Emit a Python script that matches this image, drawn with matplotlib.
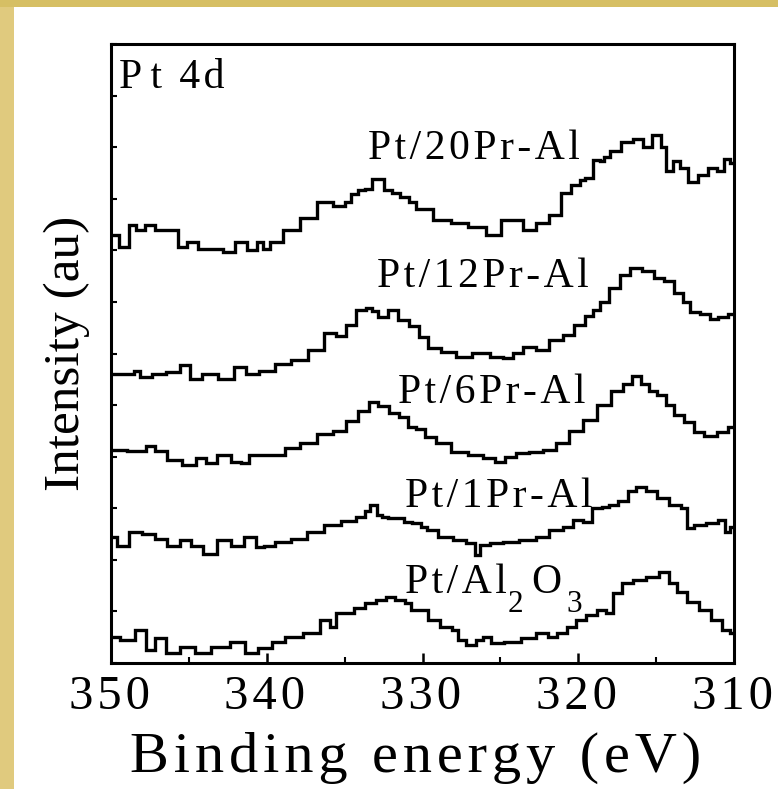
import matplotlib.pyplot as plt
from matplotlib.patches import Rectangle

plt.rcParams['font.family'] = ['Liberation Serif', 'DejaVu Serif']

HAIR = "\u200a"
THIN = "\u2009"


def spaced(s):
    return HAIR.join(s)


# Pt 4d XPS spectra, binding energy (eV) vs intensity (au)
be_20pr = [349.9, 349.1, 348.65, 348.1, 347.5, 346.9, 345.8, 345.6, 344.7, 344.1,
           343.2, 342.4, 341.7, 340.8, 340.4, 340.1, 339.5, 338.4, 337.3, 336.2,
           335.3, 334.7, 334.5, 333.85, 333.6, 332.9, 332.05, 331.9, 331.0, 330.8,
           330.0, 328.7, 327.6, 326.5, 325.3, 324.6, 324.0, 323.1, 322.3, 321.4,
           320.8, 320.1, 319.7, 319.4, 318.65, 318.5, 318.2, 317.7, 316.8, 316.15,
           315.6, 314.9, 314.5, 314.2, 313.65, 313.3, 312.6, 312.0, 311.35, 310.9,
           310.45, 310.1]
int_20pr = [428, 416, 438, 433, 438, 433, 433, 416, 421, 414,
            414, 411, 421, 413, 421, 414, 421, 433, 445, 461,
            457, 461, 469, 473, 474, 484, 473, 470, 466, 461,
            454, 443, 440, 436, 428, 443, 443, 433, 440, 448,
            470, 478, 483, 485, 503, 502, 506, 512, 521, 524,
            516, 528, 516, 492, 502, 495, 481, 488, 495, 492,
            504, 500]

be_12pr = [349.9, 348.65, 348.45, 347.8, 346.9, 346.0, 345.2, 344.7, 343.65, 342.55,
           341.7, 341.0, 340.0, 339.0, 337.95, 336.7, 335.95, 335.1, 334.7, 333.85,
           333.4, 333.15, 332.55, 331.9, 331.3, 330.5, 330.0, 329.35, 328.3, 327.45,
           326.15, 325.25, 324.4, 324.0, 323.15, 322.3, 321.4, 320.6, 319.95, 319.2,
           318.85, 318.35, 317.7, 317.0, 316.3, 315.5, 314.8, 314.2, 313.5, 313.1,
           312.55, 311.8, 311.35, 310.7, 310.1]
int_12pr = [289, 289, 292, 286, 289, 291, 298, 284, 289, 284,
            296, 289, 292, 299, 303, 313, 330, 327, 338, 353,
            355, 352, 346, 353, 343, 337, 326, 315, 311, 306,
            310, 306, 305, 310, 316, 313, 323, 328, 338, 347,
            353, 361, 375, 388, 395, 392, 385, 382, 370, 361,
            351, 349, 344, 346, 349]

be_6pr = [349.9, 348.0, 347.55, 346.75, 346.0, 344.95, 344.1, 343.65, 342.75, 341.9,
          341.45, 340.8, 339.95, 339.25, 338.4, 337.3, 336.2, 335.3, 334.55, 333.7,
          333.2, 332.5, 331.85, 331.2, 330.65, 330.15, 329.55, 328.7, 327.6, 326.55,
          325.7, 325.05, 324.4, 323.6, 322.7, 321.85, 321.0, 320.15, 319.3, 318.35,
          317.45, 316.8, 316.3, 315.7, 315.25, 314.6, 314.15, 313.55, 312.9, 312.25,
          311.55, 310.7, 310.1]
int_6pr = [213, 212, 217, 212, 203, 198, 205, 200, 208, 201,
           200, 208, 208, 208, 215, 220, 229, 232, 242, 252,
           261, 257, 250, 246, 236, 234, 226, 220, 211, 208,
           205, 201, 206, 210, 211, 213, 220, 232, 243, 258,
           272, 279, 287, 279, 272, 268, 258, 248, 241, 231,
           227, 231, 236]

be_1pr = [349.9, 349.3, 348.45, 347.55, 346.75, 346.0, 345.2, 344.55, 343.65, 342.75,
          341.9, 341.0, 340.4, 339.95, 339.0, 337.95, 336.85, 335.75, 334.7, 333.85,
          333.6, 333.2, 332.7, 332.55, 331.85, 331.45, 330.95, 330.4, 329.85, 329.55,
          328.45, 327.6, 326.8, 326.45, 326.15, 325.25, 324.4, 323.15, 322.3, 321.4,
          320.6, 320.05, 319.4, 318.8, 318.2, 317.9, 317.0, 316.6, 316.05, 315.25,
          314.6, 313.7, 313.1, 312.9, 312.25, 311.35, 310.7, 310.45, 310.1]
int_1pr = [126, 117, 131, 129, 124, 117, 123, 117, 109, 123,
           117, 126, 116, 117, 121, 124, 131, 138, 142, 146,
           152, 158, 148, 146, 145, 145, 141, 140, 136, 133,
           126, 123, 120, 108, 118, 120, 121, 123, 126, 133,
           136, 143, 141, 155, 156, 158, 162, 172, 176, 172,
           165, 158, 155, 135, 138, 140, 143, 131, 136]

be_al2o3 = [349.9, 349.0, 347.95, 347.5, 346.85, 346.05, 345.15, 344.1, 343.0, 341.75,
            341.1, 340.0, 339.35, 338.35, 337.05, 336.15, 335.75, 335.3, 334.7, 334.05,
            333.4, 332.55, 332.1, 331.45, 330.85, 330.65, 330.0, 329.35, 328.45, 327.8,
            327.65, 326.8, 326.35, 325.9, 325.25, 324.25, 323.15, 322.3, 321.65, 321.05,
            320.4, 319.95, 319.1, 318.45, 318.0, 317.55, 316.9, 316.1, 315.25, 314.35,
            313.95, 313.35, 312.7, 311.8, 311.15, 310.45, 310.1]
int_al2o3 = [26, 23, 33, 13, 25, 10, 16, 10, 16, 21,
             10, 15, 21, 26, 30, 43, 36, 50, 50, 55,
             60, 63, 66, 63, 60, 53, 53, 43, 36, 33,
             23, 18, 23, 26, 20, 21, 25, 30, 26, 30,
             36, 43, 48, 53, 50, 70, 80, 83, 86, 91,
             80, 71, 61, 53, 43, 33, 30]

sample_names = ["Pt/20Pr-Al", "Pt/12Pr-Al", "Pt/6Pr-Al", "Pt/1Pr-Al"]
# label anchor (binding energy, intensity) for each curve
label_be = [333.5, 332.9, 331.6, 331.15]
label_int = [504, 376, 260, 156]

x_ticks = [350, 340, 330, 320, 310]
x_minor = [345, 335, 325, 315]

fig = plt.figure(figsize=(7.78, 7.89), dpi=100)
fig.patch.set_facecolor("white")
# tan frame on the left and top edges
fig.add_artist(Rectangle((0, 0), 14 / 778, 1, transform=fig.transFigure,
                         facecolor="#e0ca7e", edgecolor="none"))
fig.add_artist(Rectangle((0, 1 - 7 / 789), 1, 7 / 789, transform=fig.transFigure,
                         facecolor="#d6bf64", edgecolor="none"))

ax = fig.add_axes([0.1427, 0.1597, 0.8008, 0.7845])

curves = [(be_20pr, int_20pr), (be_12pr, int_12pr), (be_6pr, int_6pr),
          (be_1pr, int_1pr), (be_al2o3, int_al2o3)]
for be, inten in curves:
    ax.step(be, inten, where="mid", color="black", lw=2.4, solid_joinstyle="miter")

for name, lx, ly in zip(sample_names, label_be, label_int):
    ax.text(lx, ly, spaced(name), fontsize=30, ha="left", va="baseline")

# Pt/Al2O3 with large, low subscripts, built piece by piece
t1 = ax.text(331.15, 70, spaced("Pt/Al"), fontsize=30, ha="left", va="baseline")
t2 = ax.annotate("2", xy=(1, 0), xycoords=t1, xytext=(0.5, -7.5),
                 textcoords="offset points", fontsize=22.5, ha="left", va="baseline")
t3 = ax.annotate("O", xy=(1, 0), xycoords=t2, xytext=(6, 19.0),
                 textcoords="offset points", fontsize=30, ha="left", va="baseline")
ax.annotate("3", xy=(1, 0), xycoords=t3, xytext=(3.6, -7.5),
            textcoords="offset points", fontsize=22.5, ha="left", va="baseline")

ax.text(349.5, 575, "P" + THIN + "t " + HAIR + HAIR + "4" + HAIR + "d", fontsize=30,
        ha="left", va="baseline")

ax.set_xlim(350, 310)
ax.set_ylim(0, 619)
ax.set_xticks(x_ticks)
ax.set_xticklabels([spaced(str(t)) + HAIR for t in x_ticks])
ax.set_xticks(x_minor, minor=True)
ax.set_yticks([619 * k / 12 for k in range(13)])
ax.tick_params(axis="x", which="major", direction="in", length=7, width=1.8,
               labelsize=35, pad=9, top=False)
ax.tick_params(axis="x", which="minor", direction="in", length=4, width=1.5, top=False)
ax.tick_params(axis="y", which="both", direction="in", length=4, width=1.5,
               labelleft=False, right=False)
for sp in ax.spines.values():
    sp.set_linewidth(2.2)

ax.set_ylabel("Intensity (au)", fontsize=37)
ax.yaxis.set_label_coords(-0.033, 0.5)

fig.text(0.534, 17 / 789, spaced("Binding") + HAIR + " " + HAIR + spaced("energy")
         + HAIR + " " + HAIR + spaced("(eV)"),
         fontsize=42, ha="center", va="baseline")

fig.savefig("out.png", dpi=100, facecolor=fig.get_facecolor())
